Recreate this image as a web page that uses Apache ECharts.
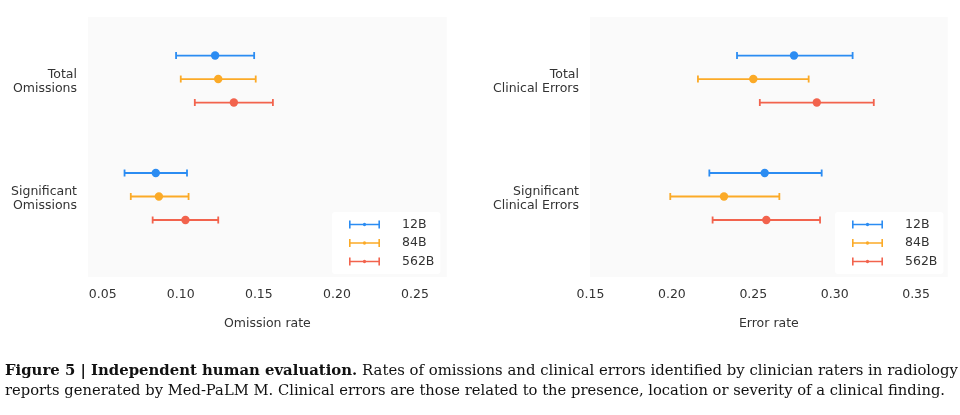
<!DOCTYPE html>
<html>
<head>
<meta charset="utf-8">
<script src="https://cdn.jsdelivr.net/npm/echarts@6/dist/echarts.min.js"></script>
<style>
html,body{margin:0;padding:0;background:#fff;}
#chart{width:960px;height:415px;}
</style>
</head>
<body>
<div id="chart"></div>
<script>
// ---- data ----
const omissionCategories = ['Total\nOmissions', 'Significant\nOmissions'];
const errorCategories = ['Total\nClinical Errors', 'Significant\nClinical Errors'];
const models = ['12B', '84B', '562B'];
const modelColors = ['#2b8cf2', '#fbaa27', '#f2634d'];

// Omission rate (left panel), index = category
const omission12BMean = [0.122, 0.084];
const omission12BLow  = [0.097, 0.064];
const omission12BHigh = [0.147, 0.104];
const omission84BMean = [0.124, 0.086];
const omission84BLow  = [0.100, 0.068];
const omission84BHigh = [0.148, 0.105];
const omission562BMean = [0.134, 0.103];
const omission562BLow  = [0.109, 0.082];
const omission562BHigh = [0.159, 0.124];

// Error rate (right panel)
const error12BMean = [0.275, 0.257];
const error12BLow  = [0.240, 0.223];
const error12BHigh = [0.311, 0.292];
const error84BMean = [0.250, 0.232];
const error84BLow  = [0.216, 0.199];
const error84BHigh = [0.284, 0.266];
const error562BMean = [0.289, 0.258];
const error562BLow  = [0.254, 0.225];
const error562BHigh = [0.324, 0.291];

const omissionTicks = [0.05, 0.10, 0.15, 0.20, 0.25];
const errorTicks = [0.15, 0.20, 0.25, 0.30, 0.35];

const captionBold = 'Figure 5 | Independent human evaluation.';
const captionLine1 = ' Rates of omissions and clinical errors identified by clinician raters in radiology';
const captionLine2 = 'reports generated by Med-PaLM M. Clinical errors are those related to the presence, location or severity of a clinical finding.';

// ---- build ----
const omissionSets = [
  [omission12BMean, omission12BLow, omission12BHigh],
  [omission84BMean, omission84BLow, omission84BHigh],
  [omission562BMean, omission562BLow, omission562BHigh]
];
const errorSets = [
  [error12BMean, error12BLow, error12BHigh],
  [error84BMean, error84BLow, error84BHigh],
  [error562BMean, error562BLow, error562BHigh]
];
const seriesOffsets = [-0.2, 0, 0.2];
const labelNudge = 0.02;

function renderErrorBar(params, api) {
  const color = api.visual('color');
  const y = api.value(3);
  const c = api.coord([api.value(2), y]);
  const l = api.coord([api.value(0), y]);
  const h = api.coord([api.value(1), y]);
  const cap = 3.5;
  const st = { stroke: color, lineWidth: 1.8 };
  return {
    type: 'group',
    children: [
      { type: 'line', shape: { x1: l[0], y1: l[1], x2: h[0], y2: h[1] }, style: st },
      { type: 'line', shape: { x1: l[0], y1: l[1] - cap, x2: l[0], y2: l[1] + cap }, style: st },
      { type: 'line', shape: { x1: h[0], y1: h[1] - cap, x2: h[0], y2: h[1] + cap }, style: st },
      { type: 'circle', shape: { cx: c[0], cy: c[1], r: 4.2 }, style: { fill: color } }
    ]
  };
}

function makeSeries(sets, gridIndex) {
  return sets.map((s, mi) => ({
    name: models[mi],
    type: 'custom',
    xAxisIndex: gridIndex,
    yAxisIndex: gridIndex,
    itemStyle: { color: modelColors[mi] },
    renderItem: renderErrorBar,
    encode: { x: [0, 1, 2], y: 3 },
    data: s[0].map((m, ci) => [s[1][ci], s[2][ci], m, ci + seriesOffsets[mi]]),
    z: 3 + mi
  }));
}

const legendIcon = 'path://M0,3.2 H31 V4.8 H0 Z M0,0 H1.6 V8 H0 Z M29.4,0 H31 V8 H29.4 Z M13.8,4 A1.7,1.7 0 1 1 17.2,4 A1.7,1.7 0 1 1 13.8,4 Z';

const tickFont = { fontFamily: 'DejaVu Sans', fontSize: 12.5, color: '#333' };

function xAxisFor(gridIndex, name, ticks, min, max) {
  return {
    gridIndex, type: 'value', min, max,
    name, nameLocation: 'middle', nameGap: 40,
    nameTextStyle: { fontFamily: 'DejaVu Sans', fontSize: 12.5, color: '#333' },
    axisLine: { show: false }, axisTick: { show: false }, splitLine: { show: false },
    axisLabel: Object.assign({ customValues: ticks, margin: 11, formatter: v => v.toFixed(2) }, tickFont)
  };
}
function yAxisFor(gridIndex, cats) {
  return {
    gridIndex, type: 'value', inverse: true, min: -0.528, max: 1.685,
    axisLine: { show: false }, axisTick: { show: false }, splitLine: { show: false },
    axisLabel: Object.assign({
      customValues: cats.map((c, i) => i + labelNudge), margin: 11, lineHeight: 14,
      formatter: v => cats[Math.round(v)] || ''
    }, tickFont)
  };
}

const legendBase = {
  orient: 'vertical',
  data: models,
  icon: legendIcon,
  itemWidth: 31, itemHeight: 8, itemGap: 5.5,
  backgroundColor: '#ffffff',
  borderRadius: 3,
  padding: [6, 6, 6, 17],
  selectedMode: false,
  textStyle: { fontFamily: 'DejaVu Sans', fontSize: 12.5, color: '#333', padding: [0, 0, 0, 17] }
};

// caption fitting (scale each line to the reference width)
const captionFont = 'DejaVu Serif';
const captionSize = 14.5;
const mctx = document.createElement('canvas').getContext('2d');
function textW(t, bold) {
  mctx.font = (bold ? 'bold ' : '') + captionSize + 'px "' + captionFont + '"';
  return mctx.measureText(t).width;
}
const w1 = textW(captionBold, true) + textW(captionLine1, false);
const w2 = textW(captionLine2, false);
const sx1 = 953 / w1;
const sx2 = 940 / w2;

const chart = echarts.init(document.getElementById('chart'), null, { renderer: 'canvas' });
chart.setOption({
  animation: false,
  backgroundColor: '#ffffff',
  grid: [
    { left: 88, top: 17, width: 358.7, height: 260, show: true, backgroundColor: '#fafafa', borderWidth: 0 },
    { left: 590, top: 17, width: 357.7, height: 260, show: true, backgroundColor: '#fafafa', borderWidth: 0 }
  ],
  xAxis: [
    xAxisFor(0, 'Omission rate', omissionTicks, 0.0406, 0.2703),
    xAxisFor(1, 'Error rate', errorTicks, 0.1497, 0.3694)
  ],
  yAxis: [yAxisFor(0, omissionCategories), yAxisFor(1, errorCategories)],
  legend: [
    Object.assign({ left: 332, top: 212 }, legendBase),
    Object.assign({ left: 835, top: 212 }, legendBase)
  ],
  series: makeSeries(omissionSets, 0).concat(makeSeries(errorSets, 1)),
  graphic: [
    {
      type: 'text', x: 5, y: 378.5, scaleX: sx1,
      style: {
        text: '{b|' + captionBold + '}' + captionLine1,
        font: captionSize + 'px "' + captionFont + '"',
        fill: '#111',
        verticalAlign: 'bottom',
        rich: { b: { fontFamily: captionFont, fontSize: captionSize, fontWeight: 'bold', fill: '#111' } }
      }
    },
    {
      type: 'text', x: 5, y: 399, scaleX: sx2,
      style: {
        text: captionLine2,
        font: captionSize + 'px "' + captionFont + '"',
        fill: '#111',
        verticalAlign: 'bottom'
      }
    }
  ]
});
</script>
</body>
</html>
